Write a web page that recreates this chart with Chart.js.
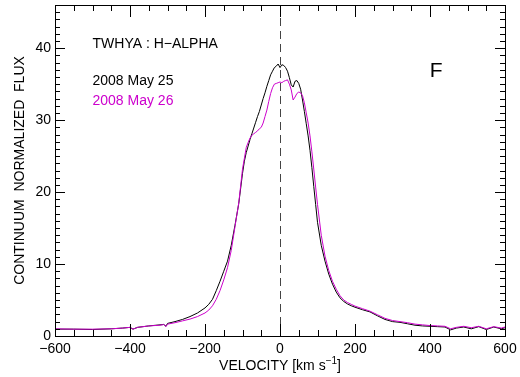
<!DOCTYPE html>
<html lang="en">
<head>
  <meta charset="UTF-8">
  <title>TW Hya H-alpha profile</title>
  <script src="https://cdn.jsdelivr.net/npm/chart.js"></script>
  <style>
    html, body { margin: 0; padding: 0; background: #fff; }
  </style>
</head>
<body>
  <canvas id="profileChart" width="520" height="377"></canvas>

  <script>
    // velocity grid (km/s) shared by both nights
    var velocity = [-600, -550, -500, -450, -420, -400, -392, -380, -350, -320, -310, -304, -300, -280, -260, -240, -220, -200, -190, -180,
      -170, -160, -150, -140, -130, -120, -110, -100, -95, -90, -85, -80, -75, -70, -65, -60, -55, -50, -45, -40,
      -35, -30, -25, -20, -15, -10, -5, 0, 5, 10, 15, 20, 25, 30, 35, 40, 45, 50, 55, 60,
      65, 70, 75, 80, 85, 90, 95, 100, 110, 120, 130, 140, 150, 160, 170, 180, 190, 200, 220, 240,
      260, 280, 300, 320, 340, 360, 380, 400, 420, 440, 455, 470, 490, 510, 530, 550, 570, 590, 600];

    // 2008 May 25 (black)
    var flux25 = [0.95, 0.95, 0.9, 1.0, 1.1, 1.2, 0.95, 1.2, 1.4, 1.55, 1.6, 1.35, 1.75, 2.0, 2.3, 2.7, 3.2, 3.9, 4.4, 5.1,
      6.3, 7.6, 9.0, 10.4, 12.6, 15.4, 18.4, 22.6, 24.3, 25.5, 26.4, 27.3, 28.1, 28.9, 29.7, 30.5, 31.2, 32.1, 33.0, 33.8,
      34.7, 35.5, 36.3, 36.8, 37.3, 37.5, 37.8, 37.3, 37.7, 37.6, 37.3, 36.8, 35.9, 34.9, 34.6, 35.4, 35.5, 35.1, 34.3, 32.8,
      31.2, 29.5, 27.8, 25.8, 23.4, 20.8, 18.3, 15.8, 12.6, 10.4, 8.6, 7.2, 6.1, 5.3, 4.8, 4.45, 4.2, 4.0, 3.65, 3.35,
      2.8, 2.3, 2.0, 1.9, 1.7, 1.5, 1.4, 1.35, 1.3, 1.25, 0.85, 1.1, 1.25, 1.0, 1.3, 0.9, 1.25, 1.0, 1.15];

    // 2008 May 26 (magenta)
    var flux26 = [1.0, 0.95, 0.95, 1.0, 1.1, 1.2, 0.95, 1.2, 1.4, 1.5, 1.6, 1.3, 1.65, 1.85, 2.1, 2.35, 2.7, 3.2, 3.6, 4.2,
      5.1, 6.3, 7.8, 9.5, 11.9, 15.2, 18.5, 23.2, 24.7, 26.2, 26.9, 27.5, 27.9, 28.1, 28.3, 28.5, 28.8, 29.0, 29.6, 30.5,
      31.4, 32.6, 33.7, 34.5, 35.0, 35.1, 35.2, 35.3, 35.2, 35.4, 35.5, 35.6, 35.0, 34.2, 32.8, 33.2, 33.7, 33.9, 33.8, 33.4,
      32.4, 31.0, 29.6, 27.8, 25.6, 23.2, 20.7, 18.3, 14.0, 11.1, 9.1, 7.6, 6.5, 5.6, 5.0, 4.65, 4.4, 4.15, 3.8, 3.45,
      2.95, 2.45, 2.15, 2.0, 1.85, 1.65, 1.55, 1.45, 1.4, 1.35, 1.0, 1.2, 1.35, 1.15, 1.35, 1.0, 1.3, 1.1, 1.25];

    var xTicks = [-600, -400, -200, 0, 200, 400, 600];
    var yTicks = [0, 10, 20, 30, 40];
    var titleText = 'TWHYA : H\u2212ALPHA';
    var seriesNames = ['2008 May 25', '2008 May 26'];
    var panelLabel = 'F';

    var FONT = "'Liberation Sans', Arial, sans-serif";
    var MAGENTA = '#cc00cc';

    function points(ys) {
      return velocity.map(function(v, i) { return { x: v, y: ys[i] }; });
    }

    function minusLabel(v) {
      return v < 0 ? '\u2212' + Math.abs(v) : String(v);
    }

    // IDL-style frame: inward ticks on all four sides, dashed line at v=0, notes
    var idlFrame = {
      id: 'idlFrame',
      afterDatasetsDraw: function(chart) {
        var ctx = chart.ctx, a = chart.chartArea;
        var x = chart.scales.x, y = chart.scales.y;
        ctx.save();

        var x0 = Math.round(x.getPixelForValue(0)) + 0.5;
        ctx.strokeStyle = '#444';
        ctx.lineWidth = 1;
        ctx.setLineDash([8, 5]);
        ctx.beginPath();
        ctx.moveTo(x0, a.top);
        ctx.lineTo(x0, a.bottom);
        ctx.stroke();
        ctx.setLineDash([]);

        ctx.strokeStyle = '#000';
        ctx.strokeRect(a.left + 0.5, a.top + 0.5, a.right - a.left, a.bottom - a.top);

        ctx.beginPath();
        for (var v = x.min; v <= x.max; v += 50) {
          var px = Math.round(x.getPixelForValue(v)) + 0.5;
          var len = (v % 200 === 0) ? 12 : 6;
          ctx.moveTo(px, a.bottom); ctx.lineTo(px, a.bottom - len);
          ctx.moveTo(px, a.top); ctx.lineTo(px, a.top + len);
        }
        for (var f = 0; f <= y.max; f += 1) {
          var py = Math.round(y.getPixelForValue(f)) + 0.5;
          var l2 = (f % 10 === 0) ? 10 : 5;
          ctx.moveTo(a.left, py); ctx.lineTo(a.left + l2, py);
          ctx.moveTo(a.right, py); ctx.lineTo(a.right - l2, py);
        }
        ctx.stroke();

        // notes inside the panel
        ctx.textBaseline = 'middle';
        ctx.textAlign = 'left';
        ctx.font = '14px ' + FONT;
        var nx = x.getPixelForValue(-500);
        ctx.fillStyle = '#000';
        ctx.fillText(titleText, nx, y.getPixelForValue(40.6));
        ctx.fillText(seriesNames[0], nx, y.getPixelForValue(35.45));
        ctx.fillStyle = MAGENTA;
        ctx.fillText(seriesNames[1], nx, y.getPixelForValue(32.6));
        ctx.fillStyle = '#000';
        ctx.font = '21px ' + FONT;
        ctx.fillText(panelLabel, x.getPixelForValue(399), y.getPixelForValue(36.8));

        // x axis title with superscript
        var base = (a.left + a.right) / 2;
        var ty = 370;
        ctx.textBaseline = 'alphabetic';
        var p1 = 'VELOCITY [km s', p3 = ']';
        ctx.font = '10px ' + FONT;
        var w2 = ctx.measureText('\u22121').width;
        ctx.font = '14px ' + FONT;
        var w1 = ctx.measureText(p1).width, w3 = ctx.measureText(p3).width;
        var sx = base - (w1 + w2 + w3) / 2;
        ctx.fillText(p1, sx, ty);
        ctx.font = '10px ' + FONT;
        ctx.fillText('\u22121', sx + w1, ty - 6);
        ctx.font = '14px ' + FONT;
        ctx.fillText(p3, sx + w1 + w2, ty);

        ctx.restore();
      }
    };

    var ctx = document.getElementById('profileChart').getContext('2d');
    new Chart(ctx, {
      type: 'line',
      data: {
        datasets: [
          {
            label: seriesNames[0],
            data: points(flux25),
            borderColor: '#000',
            borderWidth: 1,
            pointRadius: 0,
            fill: false,
            order: 2
          },
          {
            label: seriesNames[1],
            data: points(flux26),
            borderColor: MAGENTA,
            borderWidth: 1,
            pointRadius: 0,
            fill: false,
            order: 1
          }
        ]
      },
      options: {
        responsive: false,
        animation: false,
        layout: { padding: { top: 5, right: 15, left: 0, bottom: 0 } },
        plugins: {
          legend: { display: false },
          tooltip: { enabled: false }
        },
        scales: {
          x: {
            type: 'linear',
            min: -600,
            max: 600,
            grid: { display: false, drawTicks: false },
            border: { display: false },
            afterBuildTicks: function(s) { s.ticks = xTicks.map(function(v) { return { value: v }; }); },
            afterFit: function(s) { s.height = 41; s.paddingLeft = 0; s.paddingRight = 0; },
            ticks: {
              color: '#000',
              padding: 5,
              maxRotation: 0,
              font: { family: FONT, size: 14 },
              callback: function(v) { return minusLabel(v); }
            }
          },
          y: {
            type: 'linear',
            min: 0,
            max: 46,
            grid: { display: false, drawTicks: false },
            border: { display: false },
            afterBuildTicks: function(s) { s.ticks = yTicks.map(function(v) { return { value: v }; }); },
            afterFit: function(s) { s.width = 55; s.paddingTop = 0; s.paddingBottom = 0; },
            title: {
              display: true,
              text: 'CONTINUUM  NORMALIZED  FLUX',
              color: '#000',
              padding: { top: 12, bottom: 0 },
              font: { family: FONT, size: 14 }
            },
            ticks: {
              color: '#000',
              padding: 4,
              font: { family: FONT, size: 14 }
            }
          }
        }
      },
      plugins: [idlFrame]
    });
  </script>
</body>
</html>
